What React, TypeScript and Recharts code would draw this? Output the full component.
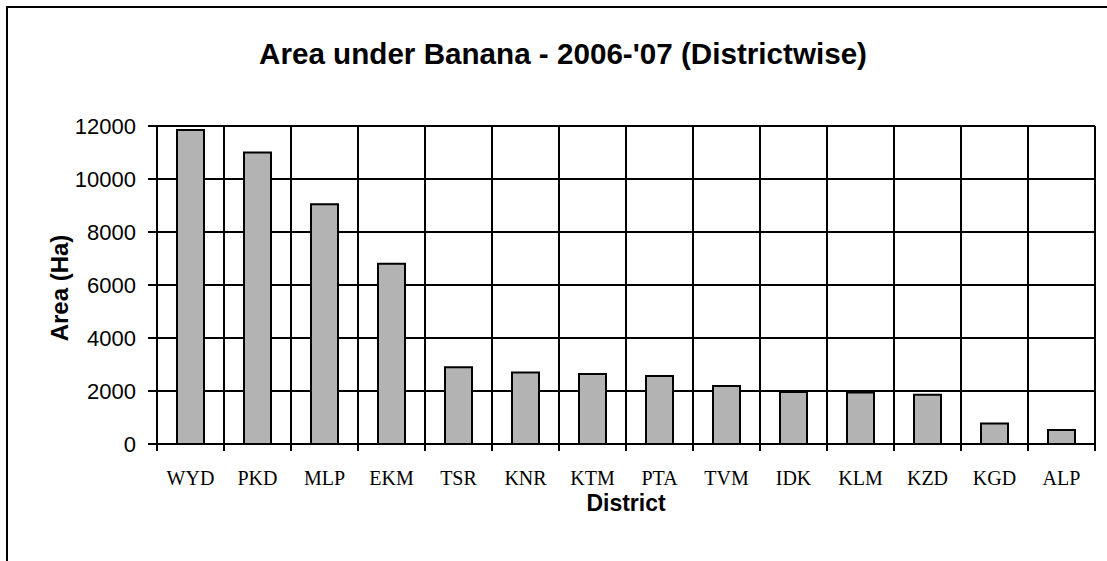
import React from "react";
import { BarChart, Bar, XAxis, YAxis, CartesianGrid } from "recharts";

const districts = ["WYD", "PKD", "MLP", "EKM", "TSR", "KNR", "KTM", "PTA", "TVM", "IDK", "KLM", "KZD", "KGD", "ALP"];
const areaHa = [11850, 11000, 9050, 6800, 2900, 2700, 2640, 2570, 2190, 1960, 1940, 1860, 770, 530];
const yTicks = [0, 2000, 4000, 6000, 8000, 10000, 12000];
const titleText = "Area under Banana - 2006-'07 (Districtwise)";
const yTitle = "Area (Ha)";
const xTitle = "District";

const data = districts.map((d, i) => ({ district: d, area: areaHa[i] }));

const SANS = "'Liberation Sans', Arial, sans-serif";
const SERIF = "'Liberation Serif', 'Times New Roman', serif";

const DistrictTick = (props: any) => {
  const { x, y, payload, index, visibleTicksCount, width } = props;
  const band = width / visibleTicksCount;
  return (
    <g>
      <line x1={x - band / 2} x2={x - band / 2} y1={y} y2={y + 7} stroke="#000" strokeWidth={2} />
      {index === visibleTicksCount - 1 && (
        <line x1={x + band / 2} x2={x + band / 2} y1={y} y2={y + 7} stroke="#000" strokeWidth={2} />
      )}
      <text x={x} y={y + 41} textAnchor="middle" fontFamily={SERIF} fontSize={20} fill="#000">
        {payload.value}
      </text>
    </g>
  );
};

const vGen = ({ offset }: any) =>
  Array.from({ length: districts.length + 1 }, (_, i) => offset.left + (i * offset.width) / districts.length);

export default function App() {
  return (
    <div
      style={{
        position: "absolute",
        left: 6,
        top: 6,
        width: 1101,
        height: 555,
        boxSizing: "border-box",
        borderTop: "2px solid #000",
        borderLeft: "2px solid #000",
        background: "#fff",
        overflow: "hidden",
      }}
    >
      <BarChart width={1099} height={553} data={data} margin={{ top: 118, right: 12, bottom: 0, left: 0 }}>
        <CartesianGrid stroke="#000" strokeWidth={2} verticalCoordinatesGenerator={vGen} />
        <XAxis
          dataKey="district"
          height={117}
          tickSize={0}
          tickMargin={0}
          tickLine={false}
          axisLine={{ stroke: "#000", strokeWidth: 2 }}
          tick={<DistrictTick />}
          interval={0}
        />
        <YAxis
          width={149}
          domain={[0, 12000]}
          ticks={yTicks}
          tickSize={9}
          tickMargin={12}
          axisLine={{ stroke: "#000", strokeWidth: 2 }}
          tickLine={{ stroke: "#000", strokeWidth: 2 }}
          tick={{ fill: "#000", fontSize: 22, fontFamily: SANS }}
          interval={0}
        />
        <Bar dataKey="area" fill="#b3b3b3" stroke="#000" strokeWidth={2} barSize={27} isAnimationActive={false} />
      </BarChart>
      <svg
        width={1099}
        height={553}
        style={{ position: "absolute", left: 0, top: 0, pointerEvents: "none" }}
      >
        <text
          x={555}
          y={56}
          textAnchor="middle"
          fontFamily={SANS}
          fontWeight="bold"
          fontSize={30}
          textLength={608}
          lengthAdjust="spacingAndGlyphs"
          fill="#000"
        >
          {titleText}
        </text>
        <text
          x={0}
          y={0}
          transform="translate(51 280) rotate(-90)"
          textAnchor="middle"
          dominantBaseline="central"
          fontFamily={SANS}
          fontWeight="bold"
          fontSize={24}
          fill="#000"
        >
          {yTitle}
        </text>
        <text x={618} y={503} textAnchor="middle" fontFamily={SANS} fontWeight="bold" fontSize={23} fill="#000">
          {xTitle}
        </text>
      </svg>
    </div>
  );
}
